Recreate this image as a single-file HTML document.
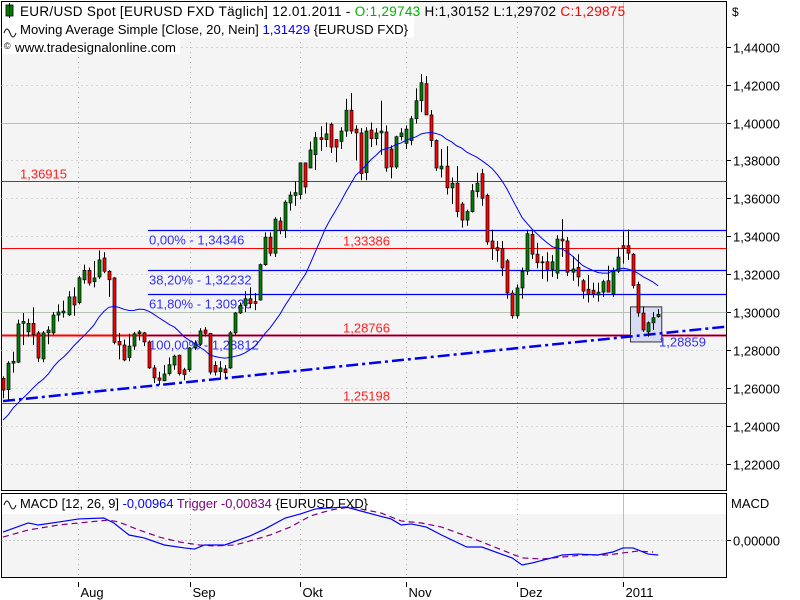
<!DOCTYPE html>
<html><head><meta charset="utf-8">
<style>
html,body{margin:0;padding:0;background:#fff;}
svg{display:block;font-family:"Liberation Sans",sans-serif;}
</style></head>
<body>
<svg id="chart" width="800" height="600" viewBox="0 0 800 600">
  <rect x="1.5" y="1.5" width="725" height="489" fill="#f4f4f4" stroke="#000"/>
  <rect x="1.5" y="493.5" width="725" height="84" fill="#f4f4f4" stroke="#000"/>
  <rect x="2" y="494" width="724" height="20" fill="#fff"/>
  <g id="grid"></g>
  <g id="levels"></g>
  <g id="marks"></g>
  <g id="axes"></g>
  <g>
    <rect x="2" y="2" width="412" height="18" fill="#fff"/>
    <rect x="2" y="20" width="412" height="18" fill="#fff"/>
    <rect x="2" y="38" width="178" height="16" fill="#fff"/>
    <rect x="6" y="5" width="7" height="11" fill="#008000" stroke="#000" stroke-width="0.8"/>
    <line x1="9.5" y1="3" x2="9.5" y2="18" stroke="#000"/>
    <text x="20" y="16" font-size="13.5" letter-spacing="0.3">EUR/USD Spot [EURUSD FXD  Täglich] 12.01.2011 - <tspan fill="#00b000">O:1,29743</tspan> H:1,30152 L:1,29702 <tspan fill="#ff0000">C:1,29875</tspan></text>
    <path d="M4 33 q3 -8 6 0 q3 8 6 0" fill="none" stroke="#000" stroke-width="1"/>
    <text x="20" y="34" font-size="13" textLength="388" lengthAdjust="spacingAndGlyphs">Moving Average Simple [Close, 20, Nein] <tspan fill="#0000ff">1,31429</tspan> {EURUSD FXD}</text>
    <text x="4" y="49" font-size="9">©</text>
    <text x="15" y="52" font-size="13" textLength="161" lengthAdjust="spacingAndGlyphs">www.tradesignalonline.com</text>
  </g>
  <g>
    <path d="M4 505 q3 -8 6 0 q3 8 6 0" fill="none" stroke="#000" stroke-width="1"/>
    <text x="20" y="508" font-size="13" textLength="348" lengthAdjust="spacingAndGlyphs">MACD [12, 26, 9] <tspan fill="#0000ff">-0,00964</tspan> <tspan fill="#800080">Trigger -0,00834</tspan> {EURUSD FXD}</text>
  </g>
</svg>
<script>
const opens=[1.265,1.259,1.273,1.2735,1.294,1.2895,1.294,1.289,1.2752,1.289,1.289,1.2984,1.2995,1.2985,1.308,1.305,1.317,1.322,1.316,1.3185,1.3285,1.3215,1.318,1.2845,1.2826,1.276,1.282,1.2885,1.289,1.2842,1.2705,1.2652,1.2637,1.2675,1.272,1.2772,1.2695,1.2695,1.281,1.283,1.2905,1.2887,1.2718,1.2685,1.27,1.2705,1.289,1.2995,1.3035,1.307,1.3055,1.3063,1.325,1.3395,1.331,1.348,1.343,1.3575,1.3615,1.362,1.3787,1.376,1.383,1.392,1.391,1.399,1.391,1.39,1.3955,1.4065,1.3965,1.3945,1.3735,1.396,1.3915,1.3945,1.395,1.386,1.3765,1.3925,1.389,1.3905,1.402,1.4115,1.4205,1.404,1.3905,1.3755,1.377,1.3655,1.368,1.357,1.3485,1.353,1.3635,1.373,1.3615,1.3375,1.334,1.3335,1.327,1.31,1.298,1.3127,1.3215,1.341,1.3305,1.326,1.3265,1.3225,1.3205,1.3385,1.3375,1.321,1.3235,1.3165,1.312,1.3115,1.309,1.3105,1.3165,1.3095,1.3215,1.335,1.335,1.3305,1.3145,1.2995,1.2895,1.2943,1.2975];
const highs=[1.266,1.274,1.279,1.296,1.2995,1.2965,1.3025,1.29,1.29,1.2925,1.3,1.304,1.306,1.311,1.313,1.319,1.325,1.3235,1.327,1.3325,1.3315,1.322,1.3185,1.289,1.2855,1.2885,1.2895,1.2905,1.2895,1.285,1.272,1.2685,1.272,1.276,1.2775,1.2775,1.2705,1.2815,1.285,1.2915,1.292,1.289,1.274,1.274,1.272,1.29,1.3,1.305,1.311,1.313,1.31,1.3255,1.342,1.342,1.35,1.35,1.359,1.3635,1.369,1.3787,1.3787,1.39,1.395,1.398,1.4,1.4,1.391,1.3975,1.4125,1.4155,1.3985,1.397,1.3975,1.4,1.397,1.4115,1.3985,1.388,1.393,1.397,1.3985,1.4035,1.418,1.4255,1.4245,1.4065,1.391,1.386,1.3875,1.371,1.377,1.358,1.354,1.3675,1.3735,1.3755,1.3625,1.3435,1.3375,1.3375,1.328,1.3115,1.3145,1.3235,1.3435,1.343,1.3365,1.3295,1.3315,1.33,1.3405,1.349,1.3395,1.3295,1.3305,1.3175,1.3195,1.3155,1.3155,1.317,1.3245,1.3235,1.334,1.3425,1.3435,1.331,1.316,1.303,1.295,1.3,1.3015];
const lows=[1.2545,1.2535,1.268,1.273,1.2825,1.287,1.2826,1.2736,1.2735,1.283,1.288,1.295,1.297,1.298,1.298,1.304,1.315,1.314,1.313,1.3175,1.3205,1.308,1.283,1.275,1.274,1.274,1.28,1.285,1.282,1.27,1.2625,1.2615,1.2635,1.2665,1.2695,1.2665,1.264,1.2685,1.28,1.282,1.287,1.267,1.2665,1.265,1.2655,1.27,1.288,1.299,1.3,1.302,1.301,1.306,1.3245,1.3295,1.329,1.341,1.339,1.3535,1.356,1.3595,1.3625,1.3765,1.375,1.385,1.387,1.384,1.379,1.386,1.3925,1.394,1.38,1.3695,1.3695,1.387,1.388,1.383,1.374,1.3705,1.3755,1.3905,1.386,1.388,1.3995,1.4055,1.404,1.387,1.3745,1.371,1.362,1.357,1.35,1.3445,1.3455,1.3525,1.3605,1.356,1.3355,1.3275,1.3265,1.319,1.307,1.2965,1.2965,1.307,1.3195,1.328,1.323,1.3175,1.316,1.3185,1.3175,1.329,1.319,1.3165,1.3135,1.307,1.305,1.3075,1.3055,1.308,1.3105,1.308,1.3205,1.3255,1.3275,1.3125,1.2975,1.2895,1.287,1.2905,1.297];
const closes=[1.2588,1.273,1.274,1.2937,1.295,1.294,1.288,1.2757,1.289,1.2905,1.2984,1.300,1.3005,1.308,1.3037,1.318,1.322,1.3153,1.318,1.3275,1.3215,1.317,1.284,1.2826,1.2747,1.282,1.2885,1.2895,1.2842,1.2705,1.2652,1.264,1.2673,1.2722,1.2767,1.2675,1.267,1.281,1.2837,1.29,1.2887,1.2683,1.2683,1.2705,1.268,1.289,1.2995,1.3035,1.307,1.3045,1.3045,1.325,1.3395,1.331,1.349,1.343,1.358,1.3617,1.363,1.3787,1.366,1.3855,1.392,1.391,1.394,1.387,1.387,1.3955,1.4065,1.3955,1.3945,1.373,1.3955,1.3915,1.3945,1.3955,1.376,1.3765,1.3925,1.3945,1.3965,1.402,1.4115,1.421,1.404,1.3905,1.376,1.377,1.3655,1.368,1.353,1.3485,1.353,1.364,1.368,1.36,1.337,1.3337,1.3325,1.3232,1.31,1.298,1.3127,1.3215,1.3413,1.3305,1.326,1.3265,1.3225,1.3265,1.3385,1.3375,1.321,1.3227,1.3185,1.311,1.3093,1.3095,1.3105,1.316,1.3105,1.3215,1.329,1.3335,1.331,1.314,1.2995,1.2905,1.2943,1.297,1.2988];
const maStart=[1.243,1.2456,1.2493,1.252,1.2546,1.2572,1.26,1.2625,1.2646,1.2673,1.271,1.274,1.2762,1.2789,1.282,1.2847,1.2873,1.29,1.293];
const macdIdx=[0,5,6,7,11,15,20,22,25,28,32,36,38,40,44,49,52,56,59,62,68,71,74,77,79,81,84,87,92,95,101,103,105,108,111,114,118,121,123,125,126,128,130];
const macdVals=[0.0051,0.0109,0.0103,0.0096,0.0115,0.0135,0.0141,0.0109,0.0032,0.0013,-0.0032,-0.0051,-0.0058,-0.0032,-0.0032,0.0026,0.0071,0.0141,0.0167,0.0199,0.0212,0.0186,0.016,0.0135,0.0096,0.0103,0.0083,0.0032,-0.0045,-0.0045,-0.0115,-0.016,-0.0147,-0.0122,-0.0096,-0.009,-0.0096,-0.0077,-0.0051,-0.0051,-0.0064,-0.009,-0.0096];
const trigIdx=[0,5,11,19,21,23,27,31,35,39,42,46,49,53,57,61,65,69,75,79,83,87,93,99,103,107,111,115,120,123,126,129];
const trigVals=[0.0019,0.0064,0.0096,0.0122,0.0128,0.0115,0.0064,0.0019,-0.0013,-0.0032,-0.0038,-0.0032,-0.0006,0.0032,0.0083,0.0154,0.0192,0.0212,0.0173,0.0122,0.0109,0.0083,0.0013,-0.0064,-0.0115,-0.0122,-0.0109,-0.0096,-0.0096,-0.0083,-0.0071,-0.0077];
const priceTicks=[1.44,1.42,1.40,1.38,1.36,1.34,1.32,1.30,1.28,1.26,1.24,1.22];
const priceTickLabels=["1,44000","1,42000","1,40000","1,38000","1,36000","1,34000","1,32000","1,30000","1,28000","1,26000","1,24000","1,22000"];
const solidGrid=[1.40,1.30];
const monthLabels=["Aug","Sep","Okt","Nov","Dez","2011"];
const monthIdx=[14.9,37.1,58.9,80,102,123];
const redLevels=[1.36915,1.33386,1.28766,1.25198];
const redLabels=["1,36915","1,33386","1,28766","1,25198"];
const fibLevels=[1.34346,1.32232,1.30926,1.28812];
const fibLabels=["0,00% - 1,34346","38,20% - 1,32232","61,80% - 1,30926","100,00% - 1,28812"];
const trendIdx=[0,130];
const trendVals=[1.2530,1.28859];
const boxIdx=[125,131.2];
const boxPrice=[1.3027,1.2842];

const NS="http://www.w3.org/2000/svg";
const X=i=>3+i*5.04;
const Y=p=>312-(p-1.30)*1895;
const YM=v=>540-v*1560;
const L=1.5,R=726.5;
function mk(tag,attrs,parent){const e=document.createElementNS(NS,tag);for(const k in attrs)e.setAttribute(k,attrs[k]);parent.appendChild(e);return e;}
const grid=document.getElementById('grid'),levels=document.getElementById('levels'),marks=document.getElementById('marks'),axes=document.getElementById('axes');

priceTicks.forEach((p,k)=>{
  const y=Math.round(Y(p))+0.5;
  const solid=solidGrid.some(s=>Math.abs(s-p)<1e-9);
  const g=mk('line',{x1:L,x2:R,y1:y,y2:y,stroke:solid?'#b4c4b4':'#b8b8b8','stroke-dasharray':solid?'':'1 4'},grid);
  
  
  mk('line',{x1:727,x2:731,y1:y,y2:y,stroke:'#000'},axes);
  const t=mk('text',{x:733,y:y+5,'font-size':'13'},axes);
  t.textContent=priceTickLabels[k];
  
  
});
const dl=mk('text',{x:732,y:16,'font-size':'12'},axes);dl.textContent='$';


const mz=Math.round(YM(0))+0.5;
mk('line',{x1:L,x2:R,y1:mz,y2:mz,stroke:'#999','stroke-dasharray':'1 3'},grid);
mk('line',{x1:727,x2:731,y1:mz,y2:mz,stroke:'#000'},axes);
const mzl=mk('text',{x:733,y:mz+5,'font-size':'13'},axes);mzl.textContent='0,00000';


const mt=mk('text',{x:731,y:508,'font-size':'13'},axes);mt.textContent='MACD';



monthLabels.forEach((m,k)=>{
  const x=Math.round(X(monthIdx[k]))+0.5;
  const last=k===monthLabels.length-1;
  [[2,490],[494,577]].forEach(r=>mk('line',{x1:x,x2:x,y1:r[0],y2:r[1],stroke:last?'#b4c4b4':'#b0b0b0','stroke-dasharray':last?'':'1 4'},grid));
  mk('line',{x1:x,x2:x,y1:582,y2:587,stroke:'#000'},axes);
  const t=mk('text',{x:x+2,y:597,'font-size':'13'},axes);t.textContent=m;
  
  
});

redLevels.forEach((p,k)=>{
  const y=Math.round(Y(p))+0.5;
  const l=mk('line',{x1:L,x2:R,y1:y,y2:y,stroke:'#ff0000','stroke-width':k===2?2:1},levels);
  
  
  const t=mk('text',{x:k===0?20:343,y:y-3,'font-size':'13',fill:'#ff2020'},levels);t.textContent=redLabels[k];
  
  
});
fibLevels.forEach((p,k)=>{
  const y=Math.round(Y(p))+0.5;
  const l=mk('line',{x1:148,x2:R,y1:y,y2:y,stroke:'#0000ff','stroke-width':1.3},levels);
  
  
  const t=mk('text',{x:149,y:y+14,'font-size':'13',fill:'#3030ff'},levels);t.textContent=fibLabels[k];
  
  
});
const bx=mk('rect',{x:X(boxIdx[0])-2.5,y:Y(boxPrice[0]),width:X(boxIdx[1])-X(boxIdx[0]),height:Y(boxPrice[1])-Y(boxPrice[0]),fill:'#d6daf2',stroke:'#333','stroke-width':1},levels);


const slope=(trendVals[1]-trendVals[0])/(trendIdx[1]-trendIdx[0]);
const iEnd=(R-3)/5.04;
const tl=mk('line',{x1:X(trendIdx[0]),y1:Y(trendVals[0]),x2:R,y2:Y(trendVals[0]+slope*(iEnd-trendIdx[0])),stroke:'#0000ee','stroke-width':2.5,'stroke-dasharray':'12 4 3 4'},levels);


const tll=mk('text',{x:659,y:Y(trendVals[1])+13,'font-size':'13',fill:'#3030ff'},levels);tll.textContent='1,28859';



closes.forEach((c,i)=>{
  const o=opens[i],x=Math.round(X(i));
  const g=mk('g',{},marks);
  
  
  mk('line',{x1:x+0.5,x2:x+0.5,y1:Y(highs[i]),y2:Y(lows[i]),stroke:'#000'},g);
  const top=Y(Math.max(o,c)),bot=Y(Math.min(o,c));
  mk('rect',{x:x-1,y:top,width:3,height:Math.max(1,bot-top),fill:c>=o?'#008000':'#ff0000',stroke:'#000','stroke-width':0.7},g);
});
const ma=closes.map((c,i)=>{
  if(i<maStart.length)return maStart[i];
  let s=0;for(let k=i-19;k<=i;k++)s+=closes[k];return s/20;
});
const mp=mk('polyline',{points:ma.map((v,i)=>X(i)+','+Y(v)).join(' '),fill:'none',stroke:'#0000ff','stroke-width':1},marks);


const tp=mk('polyline',{points:trigIdx.map((ix,k)=>X(ix)+','+YM(trigVals[k])).join(' '),fill:'none',stroke:'#800080','stroke-width':1.2,'stroke-dasharray':'6 4'},marks);


const mcp=mk('polyline',{points:macdIdx.map((ix,k)=>X(ix)+','+YM(macdVals[k])).join(' '),fill:'none',stroke:'#0000ff','stroke-width':1.2},marks);


</script>
</body></html>
